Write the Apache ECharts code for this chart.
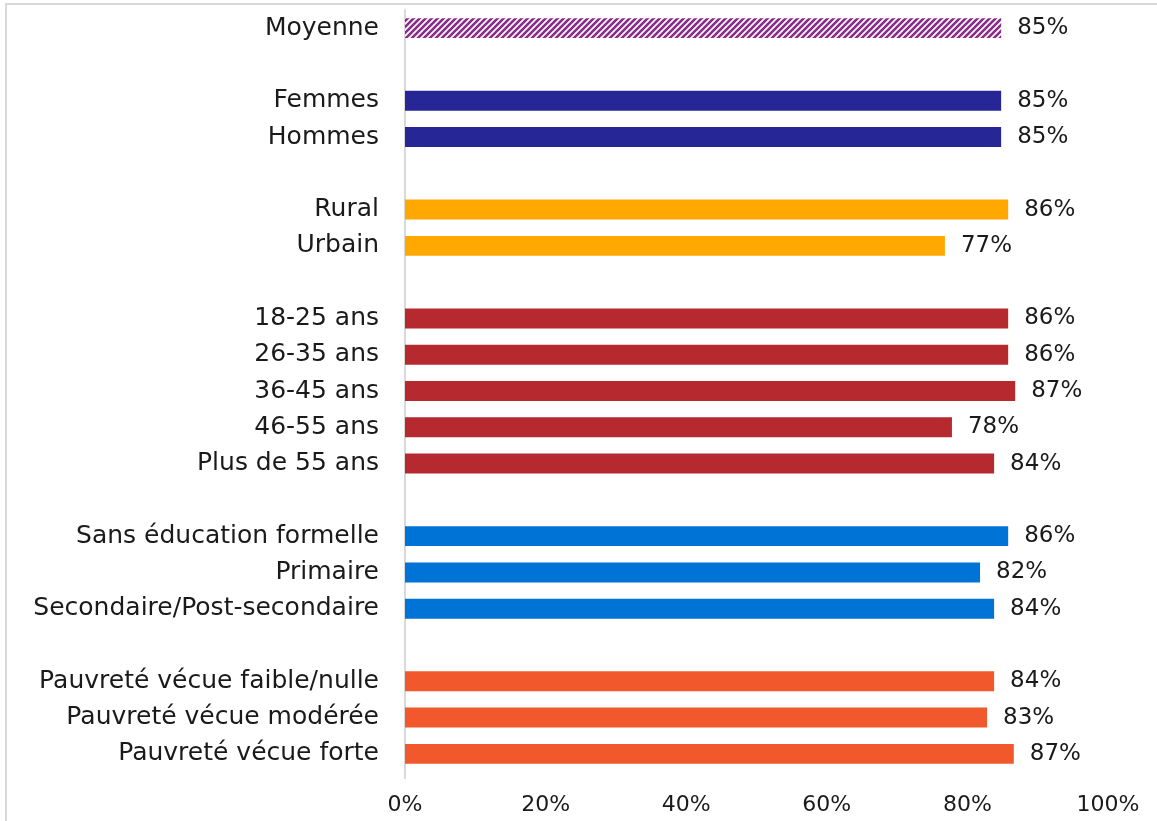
<!DOCTYPE html>
<html>
<head>
<meta charset="utf-8">
<script src="https://cdn.jsdelivr.net/npm/echarts@6/dist/echarts.min.js"></script>
<style>
html,body{margin:0;padding:0;background:#fff;}
#chart{width:1157px;height:821px;}
</style>
</head>
<body>
<div id="chart"></div>
<script>
// Categories (blank rows separate the groups)
const categories = [
  'Moyenne', ' ',
  'Femmes', 'Hommes', '  ',
  'Rural', 'Urbain', '   ',
  '18-25 ans', '26-35 ans', '36-45 ans', '46-55 ans', 'Plus de 55 ans', '    ',
  'Sans éducation formelle', 'Primaire', 'Secondaire/Post-secondaire', '     ',
  'Pauvreté vécue faible/nulle', 'Pauvreté vécue modérée', 'Pauvreté vécue forte'
];
// Values in percent (null = spacer row)
const values = [
  84.8, null,
  84.8, 84.8, null,
  85.8, 76.8, null,
  85.8, 85.8, 86.8, 77.8, 83.8, null,
  85.8, 81.8, 83.8, null,
  83.8, 82.8, 86.6
];
// Group of each row (drives the colour)
const groups = [
  'avg', null,
  'sex', 'sex', null,
  'area', 'area', null,
  'age', 'age', 'age', 'age', 'age', null,
  'edu', 'edu', 'edu', null,
  'pov', 'pov', 'pov'
];
const xTicks = [0, 20, 40, 60, 80, 100];

// hatched pattern for the average bar
const pat = document.createElement('canvas');
pat.width = 6; pat.height = 6;
const pc = pat.getContext('2d');
pc.fillStyle = '#ffffff';
pc.fillRect(0, 0, 6, 6);
pc.strokeStyle = '#8b2a8b';
pc.lineWidth = 2.6;
pc.beginPath();
pc.moveTo(-3, 3); pc.lineTo(3, -3);
pc.moveTo(0, 6); pc.lineTo(6, 0);
pc.moveTo(3, 9); pc.lineTo(9, 3);
pc.stroke();

const colors = {
  avg: { image: pat, repeat: 'repeat' },
  sex: '#262696',
  area: '#ffa800',
  age: '#b5292f',
  edu: '#0073d6',
  pov: '#f1582b'
};

const FONT = 'DejaVu Sans';
const chart = echarts.init(document.getElementById('chart'), null, { renderer: 'canvas' });
chart.setOption({
  animation: false,
  backgroundColor: '#ffffff',
  graphic: [{
    type: 'rect',
    shape: { x: 6, y: 4, width: 1300, height: 1000 },
    style: { fill: 'none', stroke: '#d9d9d9', lineWidth: 2 },
    silent: true
  }, {
    type: 'line',
    shape: { x1: 405, y1: 772, x2: 405, y2: 779 },
    style: { stroke: '#d9d9d9', lineWidth: 2 },
    silent: true
  }],
  grid: { left: 405, right: 49, top: 10, bottom: 49, containLabel: false },
  xAxis: {
    type: 'value',
    min: xTicks[0],
    max: xTicks[xTicks.length - 1],
    interval: 20,
    axisLine: { show: false },
    axisTick: { show: false },
    splitLine: { show: false },
    axisLabel: {
      formatter: v => v + '%',
      color: '#1a1a1a',
      fontFamily: FONT,
      fontSize: 22,
      margin: 22
    }
  },
  yAxis: {
    type: 'category',
    data: categories,
    inverse: true,
    axisLine: { show: true, lineStyle: { color: '#d9d9d9', width: 2 } },
    axisTick: { show: false },
    axisLabel: {
      color: '#1a1a1a',
      fontFamily: FONT,
      fontSize: 25,
      margin: 26,
      interval: 0
    }
  },
  series: [{
    type: 'bar',
    barCategoryGap: '45%',
    data: values.map((v, i) => v === null ? null : {
      value: v,
      itemStyle: { color: colors[groups[i]] }
    }),
    label: {
      show: true,
      position: 'right',
      distance: 16,
      formatter: p => Math.round(p.value) + '%',
      color: '#1a1a1a',
      fontFamily: FONT,
      fontSize: 23
    }
  }]
});
</script>
</body>
</html>
